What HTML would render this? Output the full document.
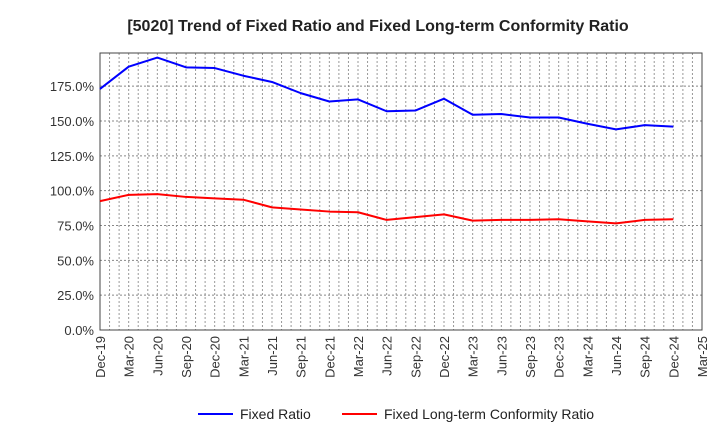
<!DOCTYPE html>
<html><head><meta charset="utf-8"><style>
body{margin:0;background:#fff;font-family:"Liberation Sans",sans-serif}
</style></head><body>
<svg id="c" width="720" height="440" xmlns="http://www.w3.org/2000/svg" font-family="Liberation Sans, sans-serif">
<text x="378" y="31" text-anchor="middle" font-size="16" font-weight="bold" fill="#222">[5020]  Trend of Fixed Ratio and Fixed Long-term Conformity Ratio</text>
<g id="grid"></g><g id="axes"></g><g id="series"></g>
<g>
<line x1="198" y1="414" x2="233" y2="414" stroke="#0000ff" stroke-width="2"/>
<text x="240" y="419" font-size="14" fill="#222">Fixed Ratio</text>
<line x1="342" y1="414" x2="377" y2="414" stroke="#ff0000" stroke-width="2"/>
<text x="384" y="419" font-size="14" fill="#222">Fixed Long-term Conformity Ratio</text>
</g>
</svg>
<script>
const categories=["Dec-19","Mar-20","Jun-20","Sep-20","Dec-20","Mar-21","Jun-21","Sep-21","Dec-21","Mar-22","Jun-22","Sep-22","Dec-22","Mar-23","Jun-23","Sep-23","Dec-23","Mar-24","Jun-24","Sep-24","Dec-24","Mar-25"];
const fixedRatio=[173,189,195.5,188.5,188,182.5,178,170,164,165.5,157,157.5,166,154.5,155,152.5,152.5,148,144,147,146];
const conformityRatio=[92.5,97,97.5,95.5,94.5,93.5,88,86.5,85,84.5,79,81,83,78.5,79,79,79.5,78,76.5,79,79.5];
const yTicks=[0,25,50,75,100,125,150,175];
const L=100,R=702,T=53,B=330,YMAX=198.8;
const NS="http://www.w3.org/2000/svg";
const x=i=>L+(R-L)*i/(categories.length-1);
const y=v=>B-(B-T)*v/YMAX;
function mk(t,a,p){const e=document.createElementNS(NS,t);for(const k in a)e.setAttribute(k,a[k]);p.appendChild(e);return e;}
const g=document.getElementById('grid'),ax=document.getElementById('axes'),s=document.getElementById('series');
const months=(categories.length-1)*3;
for(let m=1;m<months;m++){const xx=L+(R-L)*m/months;
const l=mk('line',{x1:xx,y1:T,x2:xx,y2:B,stroke:'#999','stroke-dasharray':'2,2','stroke-width':1},g);

}
yTicks.forEach(v=>{if(v>0){const l=mk('line',{x1:L,y1:y(v),x2:R,y2:y(v),stroke:'#888','stroke-dasharray':'2,2','stroke-width':1},g);

}
const t=mk('text',{x:L-6,y:y(v)+5,'text-anchor':'end','font-size':13,fill:'#333'},ax);t.textContent=v.toFixed(1)+'%';

});
const fr=mk('rect',{x:L,y:T,width:R-L,height:B-T,fill:'none',stroke:'#444','stroke-width':1},ax);


categories.forEach((c,i)=>{const t=mk('text',{x:0,y:0,'text-anchor':'end','font-size':13,fill:'#333',transform:`translate(${x(i)+5},${B+6}) rotate(-90)`},ax);t.textContent=c;

});
function line(d,col,name){const p=mk('polyline',{points:d.map((v,i)=>x(i)+','+y(v)).join(' '),fill:'none',stroke:col,'stroke-width':2,'stroke-linejoin':'round'},s);

}
line(fixedRatio,'#0000ff','fixed-ratio-line');
line(conformityRatio,'#ff0000','conformity-ratio-line');
</script>
</body></html>
